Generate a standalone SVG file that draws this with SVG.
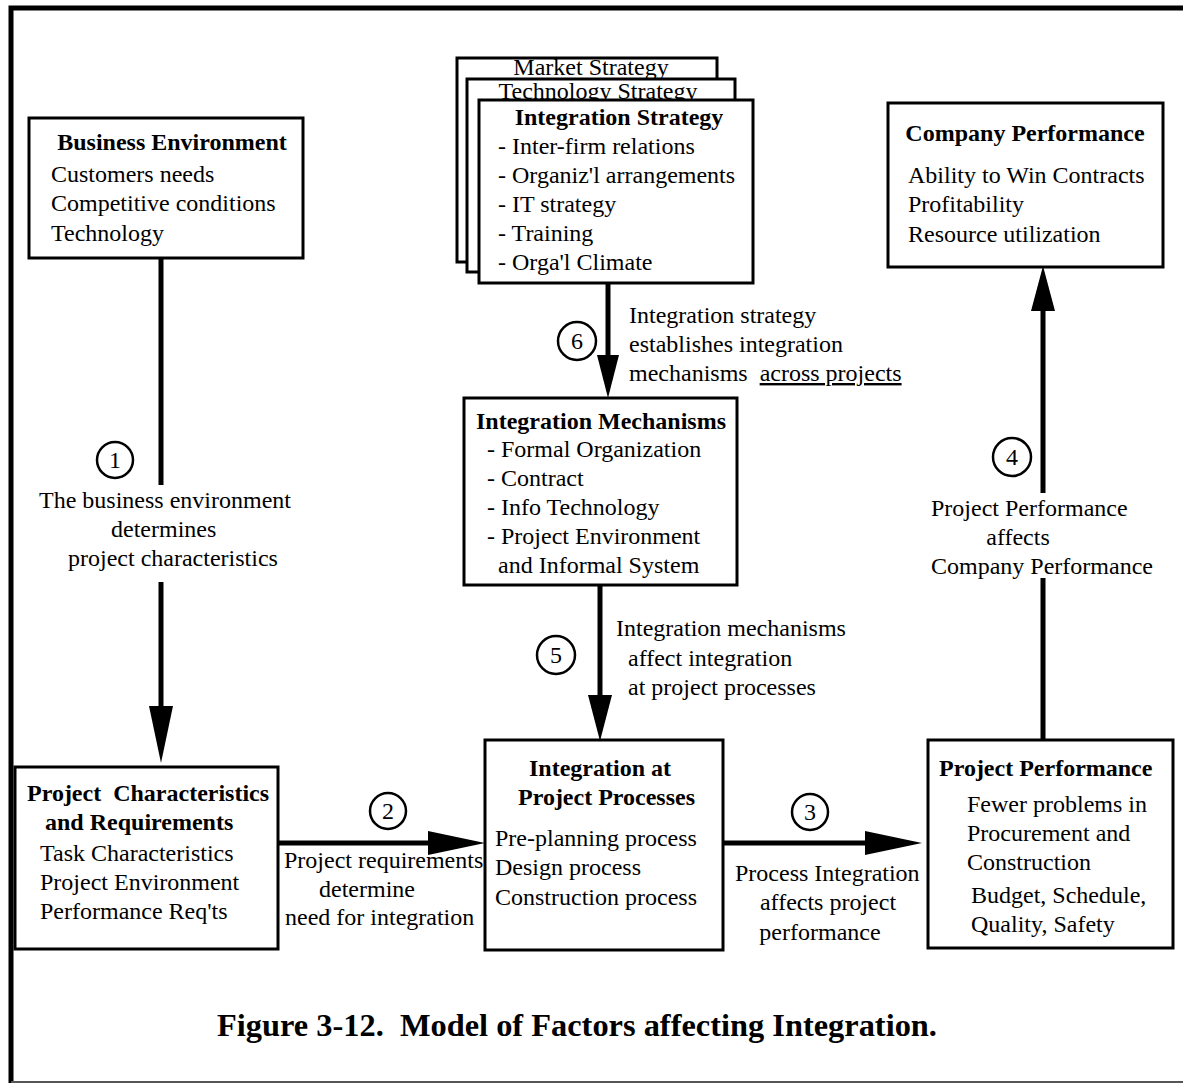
<svg xmlns="http://www.w3.org/2000/svg" width="1183" height="1085" viewBox="0 0 1183 1085" xml:space="preserve">
  <style>
    text { font-family: "Liberation Serif", "Times New Roman", serif; font-size: 24px; fill: #000; white-space: pre; }
    .b { font-weight: bold; }
    .c { text-anchor: middle; }
    .box { fill: #fff; stroke: #000; stroke-width: 3; }
    .line { stroke: #000; stroke-width: 5; fill: none; }
    .head { fill: #000; }
    .num { fill: #fff; stroke: #000; stroke-width: 2.5; }
  </style>

  <rect width="1183" height="1085" fill="#fff"/>
  <!-- page frame -->
  <path d="M11,1083 V8 H1183" fill="none" stroke="#000" stroke-width="5"/>
  <path d="M11,1082 H1183" fill="none" stroke="#555" stroke-width="2"/>

  <!-- connectors -->
  <g id="connectors">
    <!-- 1: business environment -> project characteristics -->
    <line class="line" x1="161" y1="258" x2="161" y2="485"/>
    <line class="line" x1="161" y1="582" x2="161" y2="710"/>
    <polygon class="head" points="149,706 173,706 161,763"/>
    <!-- 2: project characteristics -> integration at project processes -->
    <line class="line" x1="278" y1="843" x2="432" y2="843"/>
    <polygon class="head" points="428,831 428,855 485,843"/>
    <!-- 3: integration at project processes -> project performance -->
    <line class="line" x1="723" y1="843" x2="870" y2="843"/>
    <polygon class="head" points="865,831 865,855 922,843"/>
    <!-- 4: project performance -> company performance -->
    <line class="line" x1="1043" y1="740" x2="1043" y2="578"/>
    <line class="line" x1="1043" y1="493" x2="1043" y2="305"/>
    <polygon class="head" points="1031,311 1055,311 1043,266"/>
    <!-- 5: integration mechanisms -> integration at project processes -->
    <line class="line" x1="600" y1="585" x2="600" y2="700"/>
    <polygon class="head" points="588,695 612,695 600,741"/>
    <!-- 6: integration strategy -> integration mechanisms -->
    <line class="line" x1="608" y1="283" x2="608" y2="360"/>
    <polygon class="head" points="597,355 619,355 608,398"/>
  </g>

  <!-- numbered markers and connector labels -->
  <g id="labels">
    <circle class="num" cx="115" cy="460" r="18"/>
    <text class="c" x="115" y="468">1</text>
    <text x="39" y="508">The business environment</text>
    <text x="111" y="537">determines</text>
    <text x="68" y="566">project characteristics</text>

    <circle class="num" cx="388" cy="811" r="18"/>
    <text class="c" x="388" y="819">2</text>
    <text x="284" y="868">Project requirements</text>
    <text class="c" x="367" y="897">determine</text>
    <text x="285" y="925">need for integration</text>

    <circle class="num" cx="810" cy="812" r="18"/>
    <text class="c" x="810" y="820">3</text>
    <text x="735" y="881">Process Integration</text>
    <text class="c" x="828" y="910">affects project</text>
    <text class="c" x="820" y="940">performance</text>

    <circle class="num" cx="1012" cy="457" r="19"/>
    <text class="c" x="1012" y="465">4</text>
    <text x="931" y="516">Project Performance</text>
    <text class="c" x="1018" y="545">affects</text>
    <text x="931" y="574">Company Performance</text>

    <circle class="num" cx="556" cy="655" r="19"/>
    <text class="c" x="556" y="663">5</text>
    <text x="616" y="636">Integration mechanisms</text>
    <text x="628" y="666">affect integration</text>
    <text x="628" y="695">at project processes</text>

    <circle class="num" cx="577" cy="341" r="19"/>
    <text class="c" x="577" y="349">6</text>
    <text x="629" y="323">Integration strategy</text>
    <text x="629" y="352">establishes integration</text>
    <text x="629" y="381">mechanisms  <tspan text-decoration="underline">across projects</tspan></text>
  </g>

  <g id="business-environment">
    <rect class="box" x="29" y="118" width="274" height="140"/>
    <text class="b c" x="172" y="150">Business Environment</text>
    <text x="51" y="182">Customers needs</text>
    <text x="51" y="211">Competitive conditions</text>
    <text x="51" y="241">Technology</text>
  </g>

  <!-- stacked strategy sheets: each sheet covers the lower part of the one behind -->
  <g id="integration-strategy">
    <rect class="box" x="457" y="58" width="260" height="204"/>
    <text class="c" x="591" y="75">Market Strategy</text>
    <rect class="box" x="467" y="79" width="268" height="193"/>
    <text class="c" x="598" y="99">Technology Strategy</text>
    <rect class="box" x="479" y="100" width="274" height="183"/>
    <text class="b c" x="619" y="125">Integration Strategy</text>
    <text x="498" y="154">- Inter-firm relations</text>
    <text x="498" y="183">- Organiz'l arrangements</text>
    <text x="498" y="212">- IT strategy</text>
    <text x="498" y="241">- Training</text>
    <text x="498" y="270">- Orga'l Climate</text>
  </g>

  <g id="company-performance">
    <rect class="box" x="888" y="103" width="275" height="164"/>
    <text class="b c" x="1025" y="141">Company Performance</text>
    <text x="908" y="183">Ability to Win Contracts</text>
    <text x="908" y="212">Profitability</text>
    <text x="908" y="242">Resource utilization</text>
  </g>

  <g id="integration-mechanisms">
    <rect class="box" x="464" y="398" width="273" height="187"/>
    <text class="b c" x="601" y="429">Integration Mechanisms</text>
    <text x="487" y="457">- Formal Organization</text>
    <text x="487" y="486">- Contract</text>
    <text x="487" y="515">- Info Technology</text>
    <text x="487" y="544">- Project Environment</text>
    <text x="498" y="573">and Informal System</text>
  </g>

  <g id="project-characteristics">
    <rect class="box" x="15" y="767" width="263" height="182"/>
    <text class="b" x="27" y="801">Project  Characteristics</text>
    <text class="b" x="45" y="830">and Requirements</text>
    <text x="40" y="861">Task Characteristics</text>
    <text x="40" y="890">Project Environment</text>
    <text x="40" y="919">Performance Req'ts</text>
  </g>

  <g id="integration-at-project-processes">
    <rect class="box" x="485" y="740" width="238" height="210"/>
    <text class="b" x="529" y="776">Integration at</text>
    <text class="b" x="518" y="805">Project Processes</text>
    <text x="495" y="846">Pre-planning process</text>
    <text x="495" y="875">Design process</text>
    <text x="495" y="905">Construction process</text>
  </g>

  <g id="project-performance">
    <rect class="box" x="928" y="740" width="245" height="208"/>
    <text class="b" x="939" y="776">Project Performance</text>
    <text x="967" y="812">Fewer problems in</text>
    <text x="967" y="841">Procurement and</text>
    <text x="967" y="870">Construction</text>
    <text x="971" y="903">Budget, Schedule,</text>
    <text x="971" y="932">Quality, Safety</text>
  </g>

  <text class="b" x="217" y="1036" style="font-size:32.4px">Figure 3-12.  Model of Factors affecting Integration.</text>
</svg>
